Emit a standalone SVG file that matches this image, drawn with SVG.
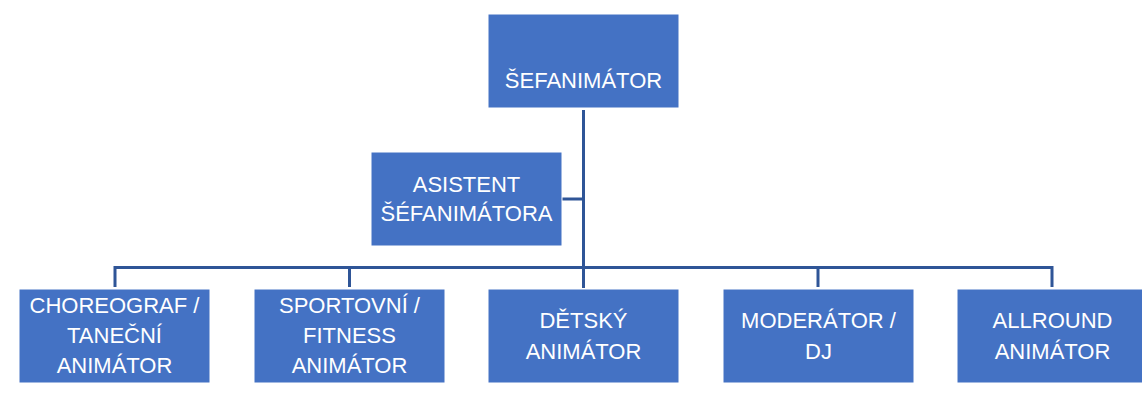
<svg xmlns="http://www.w3.org/2000/svg" width="1142" height="394" viewBox="0 0 1142 394">
<style>
.box{fill:#4472C4;stroke:#FFFFFF;stroke-width:1}
.lbl{font-family:"Liberation Sans",Arial,sans-serif;font-size:22px;fill:#FFFFFF;text-anchor:middle}
.con{fill:none;stroke:#2F5597;stroke-width:3}
</style>
<rect width="1142" height="394" fill="#FFFFFF"/>
<g id="connectors">
<path class="con" d="M583.5 110 V288"/>
<path class="con" d="M562 199 H583.5"/>
<path class="con" d="M115 287 V267.5 H1052 V287"/>
<path class="con" d="M349.5 267.5 V287"/>
<path class="con" d="M818 267.5 V287"/>
</g>
<g id="n-sefanimator">
<rect class="box" x="488" y="14" width="191" height="94"/>
<text class="lbl" x="583.5" y="88">ŠEFANIMÁTOR</text>
</g>
<g id="n-asistent">
<rect class="box" x="371" y="152" width="191" height="94"/>
<text class="lbl" x="466.5" y="192">ASISTENT</text>
<text class="lbl" x="466.5" y="221">ŠÉFANIMÁTORA</text>
</g>
<g id="n-choreograf">
<rect class="box" x="19" y="289" width="191" height="94"/>
<text class="lbl" x="114.5" y="313">CHOREOGRAF /</text>
<text class="lbl" x="114.5" y="343">TANEČNÍ</text>
<text class="lbl" x="114.5" y="373">ANIMÁTOR</text>
</g>
<g id="n-sportovni">
<rect class="box" x="254" y="289" width="191" height="94"/>
<text class="lbl" x="349.5" y="313">SPORTOVNÍ /</text>
<text class="lbl" x="349.5" y="343">FITNESS</text>
<text class="lbl" x="349.5" y="373">ANIMÁTOR</text>
</g>
<g id="n-detsky">
<rect class="box" x="488" y="289" width="191" height="94"/>
<text class="lbl" x="583.5" y="328">DĚTSKÝ</text>
<text class="lbl" x="583.5" y="359">ANIMÁTOR</text>
</g>
<g id="n-moderator">
<rect class="box" x="723" y="289" width="191" height="94"/>
<text class="lbl" x="818.5" y="328">MODERÁTOR /</text>
<text class="lbl" x="818.5" y="359">DJ</text>
</g>
<g id="n-allround">
<rect class="box" x="957" y="289" width="191" height="94"/>
<text class="lbl" x="1052.5" y="328">ALLROUND</text>
<text class="lbl" x="1052.5" y="359">ANIMÁTOR</text>
</g>
</svg>
